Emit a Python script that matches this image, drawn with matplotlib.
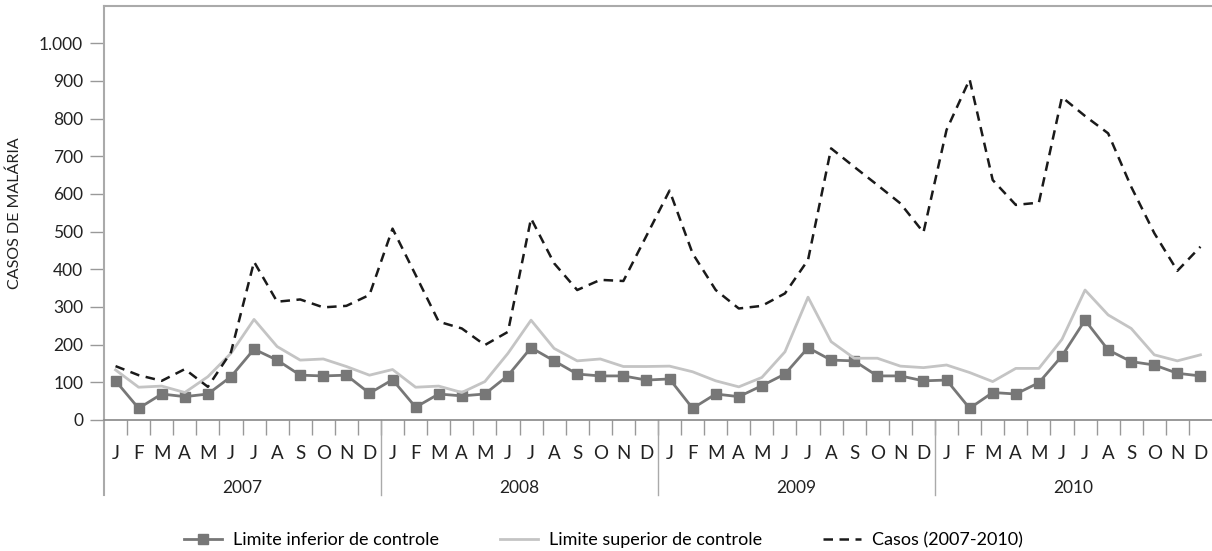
import numpy as np
import matplotlib
matplotlib.use('Agg')
from matplotlib import pyplot as plt
from matplotlib.ticker import FuncFormatter

plt.rcParams['font.family'] = ['Lato', 'DejaVu Sans']

# ------------------------------------------------------------------
# dados
# ------------------------------------------------------------------
months = ['J', 'F', 'M', 'A', 'M', 'J', 'J', 'A', 'S', 'O', 'N', 'D']
years = ['2007', '2008', '2009', '2010']

casos = [143, 119, 104, 135, 88, 180, 420, 314, 320, 299, 303, 332,
         508, 385, 261, 243, 199, 234, 535, 416, 345, 372, 369, 489,
         609, 442, 345, 296, 303, 336, 425, 721, 672, 624, 575, 498,
         770, 904, 637, 571, 577, 857, 807, 761, 619, 496, 396, 460]

lim_inf = [104, 31, 69, 62, 69, 115, 188, 159, 119, 117, 119, 71,
           107, 34, 69, 64, 69, 118, 192, 157, 122, 117, 117, 106,
           109, 31, 69, 62, 91, 122, 192, 159, 157, 117, 117, 104,
           106, 31, 73, 69, 99, 170, 265, 186, 155, 146, 124, 117]

lim_sup = [133, 87, 90, 73, 115, 177, 267, 195, 159, 162, 142, 119,
           134, 87, 90, 73, 102, 177, 265, 190, 157, 162, 142, 142,
           143, 128, 104, 88, 113, 181, 326, 208, 164, 164, 143, 139,
           146, 126, 102, 137, 137, 214, 345, 279, 243, 173, 157, 173]

x = np.arange(len(casos))

fig = plt.figure(figsize=(12.12, 5.51), dpi=100)
ax = fig.add_axes([104 / 1212, 1 - 420 / 551, 1 - 104 / 1212, 414 / 551])

ax.plot(x, lim_inf, color='#777777', lw=2, marker='s', ms=7,
        label='Limite inferior de controle')
ax.plot(x, lim_sup, color='#c4c4c4', lw=2, label='Limite superior de controle')
ax.plot(x, casos, color='#1a1a1a', lw=1.8, ls=(0, (3.8, 2.6)),
        label='Casos (2007-2010)')

ax.set_xlim(-0.5, len(casos) - 0.5)
ax.set_ylim(0, 1099)

# eixo y
ax.set_yticks(np.arange(0, 1001, 100))
ax.yaxis.set_major_formatter(FuncFormatter(lambda v, p: f"{int(v):,}".replace(',', '.')))
ax.tick_params(axis='y', length=10, width=1, color='#999999', labelsize=12.5,
               labelcolor='#222222', pad=5)
ax.set_ylabel('CASOS DE MALÁRIA', fontsize=11.5, color='#222222', labelpad=12)

# eixo x: traços entre os meses, rótulos de mês e ano
ax.set_xticks(np.arange(0.5, len(casos) - 1, 1))
ax.set_xticklabels([])
ax.tick_params(axis='x', length=11, width=1, color='#999999')
for i in x:
    ax.text(i, -0.08, months[i % 12], transform=ax.get_xaxis_transform(),
            ha='center', va='center', fontsize=13.5, color='#222222')
for k, yr in enumerate(years):
    ax.text(k * 12 + 5.5, -0.165, yr, transform=ax.get_xaxis_transform(),
            ha='center', va='center', fontsize=12.5, color='#222222')
for k in range(1, 4):
    ax.plot([k * 12 - 0.5] * 2, [0, -0.181], transform=ax.get_xaxis_transform(),
            color='#aaaaaa', lw=1, clip_on=False)
ax.plot([-0.5] * 2, [0, -0.181], transform=ax.get_xaxis_transform(),
        color='#aaaaaa', lw=1.5, clip_on=False)

for s in ['left', 'top']:
    ax.spines[s].set_color('#aaaaaa')
    ax.spines[s].set_linewidth(1.5)
ax.spines['bottom'].set_color('#888888')
ax.spines['bottom'].set_linewidth(1.2)
ax.spines['right'].set_visible(False)

fig.legend(loc='center', bbox_to_anchor=(0.498, 1 - 540 / 551), ncol=3, frameon=False,
           fontsize=13, handlelength=2.1, columnspacing=3.4, handletextpad=0.6)

fig.savefig('out.png', dpi=100)
